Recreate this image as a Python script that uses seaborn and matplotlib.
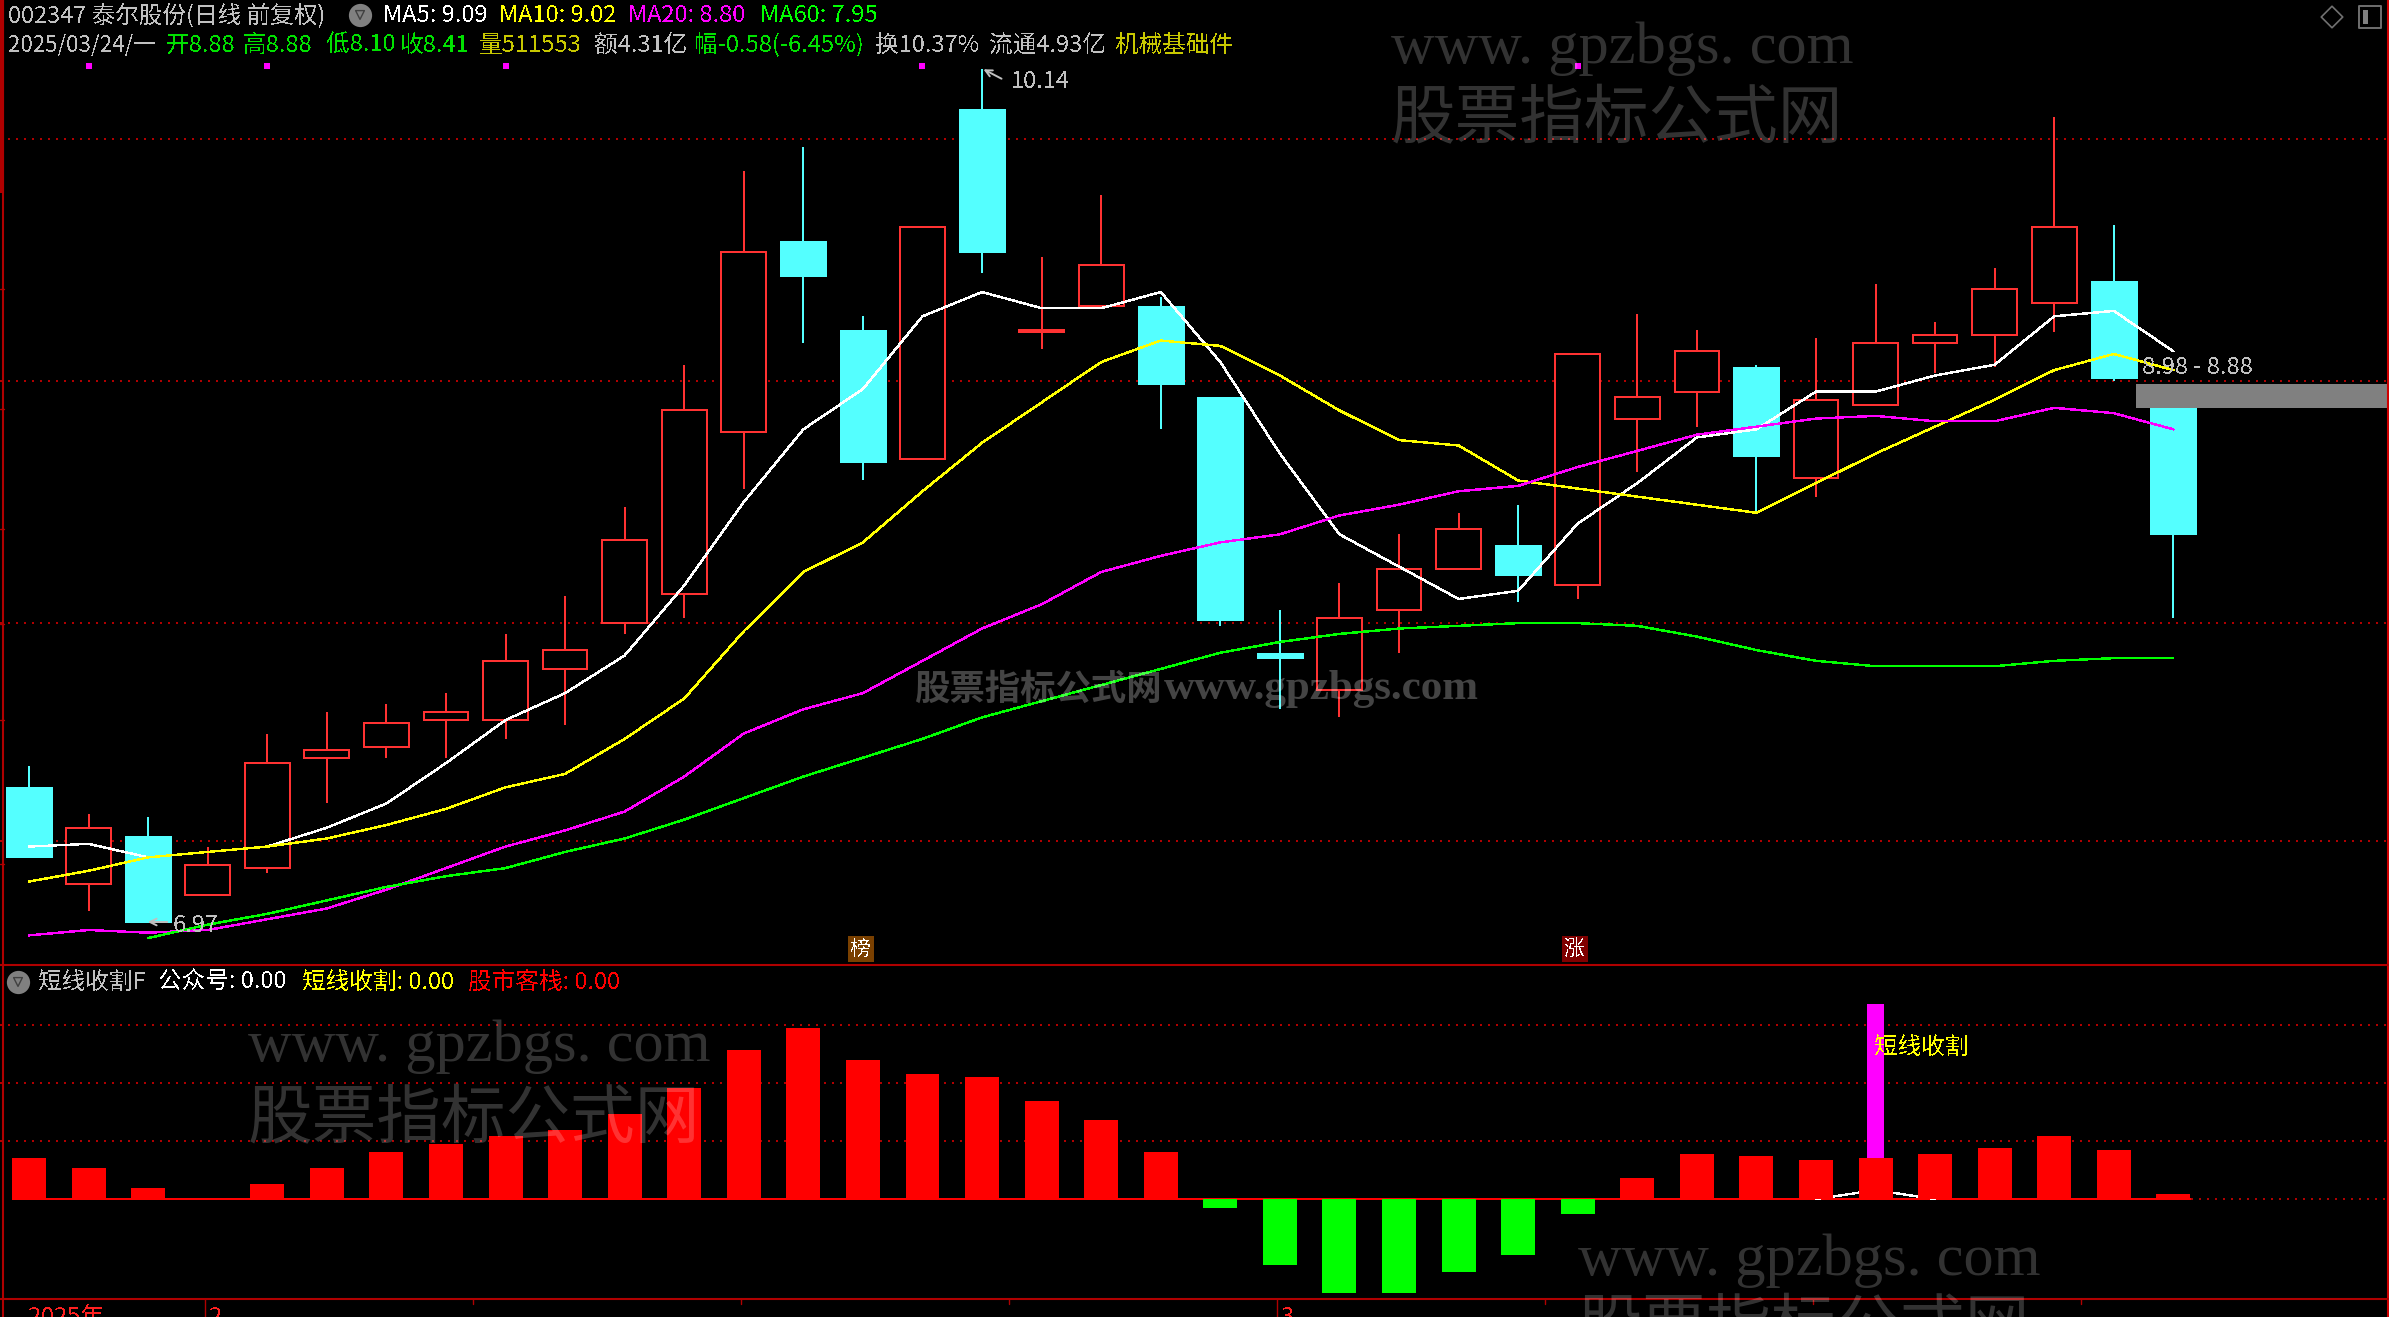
import matplotlib
matplotlib.use("Agg")
import matplotlib.pyplot as plt
import numpy as np
import seaborn as sns
from matplotlib.patches import Rectangle

sns.set_theme(style="dark")
plt.rcParams['font.family'] = ['Noto Sans CJK SC', 'DejaVu Sans']
plt.rcParams['text.antialiased'] = False

W, H = 2389, 1317
panel_split = 965
panel_bottom = 1299

# daily candles
opens = [7.47, 7.11, 7.29, 7.07, 7.17, 7.58, 7.62, 7.72, 7.72, 7.91, 8.08, 8.19, 8.79, 9.50, 9.17, 8.69, 9.99, 9.16, 9.26, 9.26,
         8.92, 7.97, 7.83, 8.13, 8.28, 8.37, 8.22, 8.84, 8.94, 9.03, 8.62, 8.89, 9.12, 9.15, 9.27, 9.35, 8.88]
highs = [7.55, 7.37, 7.36, 7.25, 7.67, 7.75, 7.78, 7.82, 8.04, 8.18, 8.51, 9.04, 9.76, 9.85, 9.22, 9.55, 10.14, 9.44, 9.67, 9.29,
         8.92, 8.13, 8.23, 8.41, 8.49, 8.52, 9.08, 9.23, 9.17, 9.04, 9.14, 9.34, 9.20, 9.40, 9.96, 9.56, 8.88]
lows = [7.21, 7.01, 6.97, 7.07, 7.15, 7.41, 7.58, 7.58, 7.65, 7.70, 8.04, 8.10, 8.58, 9.12, 8.61, 8.69, 9.38, 9.10, 9.26, 8.80,
        8.07, 7.76, 7.73, 7.97, 8.28, 8.16, 8.17, 8.64, 8.81, 8.49, 8.55, 8.89, 9.01, 9.03, 9.16, 8.98, 8.10]
closes = [7.21, 7.32, 6.97, 7.18, 7.56, 7.61, 7.71, 7.75, 7.94, 7.98, 8.39, 8.87, 9.46, 9.37, 8.68, 9.55, 9.46, 9.17, 9.41, 8.97,
          8.09, 7.95, 8.10, 8.28, 8.43, 8.26, 9.08, 8.92, 9.09, 8.70, 8.91, 9.12, 9.15, 9.32, 9.55, 8.99, 8.41]

ma5 = [7.25, 7.26, 7.21, 7.23, 7.25, 7.32, 7.41, 7.56, 7.72, 7.82, 7.96, 8.22, 8.53, 8.80, 8.95, 9.22, 9.31, 9.25, 9.25, 9.31,
       9.05, 8.71, 8.41, 8.29, 8.17, 8.20, 8.45, 8.60, 8.77, 8.80, 8.94, 8.94, 9.00, 9.04, 9.22, 9.24, 9.09]
ma10 = [7.12, 7.16, 7.21, 7.23, 7.25, 7.28, 7.33, 7.39, 7.47, 7.52, 7.65, 7.80, 8.05, 8.27, 8.38, 8.57, 8.75, 8.90, 9.05, 9.13,
        9.11, 9.00, 8.87, 8.76, 8.74, 8.61, 8.58, 8.55, 8.52, 8.49, 8.60, 8.71, 8.81, 8.91, 9.02, 9.08, 9.02]
ma20 = [6.92, 6.94, 6.93, 6.94, 6.98, 7.02, 7.09, 7.17, 7.25, 7.31, 7.38, 7.51, 7.67, 7.76, 7.82, 7.94, 8.06, 8.15, 8.27, 8.33,
        8.38, 8.41, 8.48, 8.52, 8.57, 8.59, 8.66, 8.72, 8.78, 8.81, 8.84, 8.85, 8.83, 8.83, 8.88, 8.86, 8.80]
ma60_idx = list(range(2, 37))
ma60 = [6.91, 6.96, 7.00, 7.05, 7.10, 7.14, 7.17, 7.23, 7.28, 7.35, 7.43, 7.51, 7.58, 7.65, 7.73, 7.79, 7.85, 7.91, 7.97, 8.01,
        8.04, 8.06, 8.07, 8.08, 8.08, 8.07, 8.03, 7.98, 7.94, 7.92, 7.92, 7.92, 7.94, 7.95, 7.95]

signal_idx = [1, 4, 8, 15, 26]
signal_price = 10.15
gap_high, gap_low = 8.97, 8.88
grid_prices = [9.88, 8.98, 8.08, 7.27]

# lower panel
bar_vals = [14.1, 10.7, 3.8, 0, 5.2, 10.7, 16.2, 19.0, 21.7, 23.8, 29.3, 38.3, 51.4, 59.0, 47.9, 43.1, 42.1, 33.8, 27.2, 16.2,
            -3.1, -22.8, -32.4, -32.4, -25.2, -19.3, -5.2, 7.2, 15.5, 14.8, 13.4, 14.1, 15.5, 17.6, 21.7, 16.9, 1.7]
signal_bar_idx = [31]
signal_bar_val = [67.2]
white_idx = [30, 31, 32]
white_vals = [0, 3.0, 0]
grid_lower = [20, 40, 60]

DARK_RED = "#b00000"
CANDLE_RED = "#ff3232"
CYAN = "#54ffff"
LW = 1.44
MA_LW = 1.0
x_idx = np.arange(len(closes))
xlim = (-0.487, 39.62)

fig = plt.figure(figsize=(W / 100, H / 100), dpi=100, facecolor="black")
ax = fig.add_axes([0, 1 - panel_split / H, 1, panel_split / H])
ax2 = fig.add_axes([0, 1 - panel_bottom / H, 1, (panel_bottom - panel_split) / H])
ov = fig.add_axes([0, 0, 1, 1], zorder=10)
ov.set_xlim(0, W)
ov.set_ylim(H, 0)
ov.patch.set_alpha(0)
ov.set_axis_off()

# --- candles ---
ax.set_facecolor("black")
ax.hlines(grid_prices, *xlim, color=DARK_RED, lw=LW, linestyles=(0, (1, 3)), zorder=1, antialiased=False)
for i in x_idx:
    up = closes[i] >= opens[i]
    col = CANDLE_RED if up else CYAN
    ax.vlines(i, lows[i], highs[i], color=col, lw=LW, zorder=2, antialiased=False)
    bottom = min(opens[i], closes[i])
    height = abs(closes[i] - opens[i])
    if up:
        ax.bar(i, height, bottom=bottom, width=0.75, facecolor="black", edgecolor=col, linewidth=LW, zorder=3, antialiased=False)
    else:
        ax.bar(i, height, bottom=bottom, width=0.77, facecolor=col, edgecolor=col, linewidth=0.5, zorder=3, antialiased=False)

sns.lineplot(x=x_idx, y=ma5, ax=ax, color="white", lw=MA_LW, errorbar=None, zorder=5, antialiased=False)
sns.lineplot(x=x_idx, y=ma10, ax=ax, color="#ffff00", lw=MA_LW, errorbar=None, zorder=5, antialiased=False)
sns.lineplot(x=x_idx, y=ma20, ax=ax, color="#ff00ff", lw=MA_LW, errorbar=None, zorder=5, antialiased=False)
sns.lineplot(x=ma60_idx, y=ma60, ax=ax, color="#00ff00", lw=MA_LW, errorbar=None, zorder=5, antialiased=False)
sns.scatterplot(x=signal_idx, y=[signal_price] * len(signal_idx), ax=ax, color="#ff00ff", marker="s", s=16, linewidth=0, zorder=5)
ax.barh((gap_high + gap_low) / 2, xlim[1] - 35.38, left=35.38, height=gap_high - gap_low, color="#808080", linewidth=0, zorder=4)
ax.set_xlim(*xlim)
ax.set_ylim(6.81, 10.395)
ax.set_axis_off()

# --- lower panel ---
ax2.set_facecolor("black")
ax2.hlines(grid_lower, *xlim, color=DARK_RED, lw=LW, linestyles=(0, (1, 3)), zorder=1, antialiased=False)
ax2.hlines(0, 36.3, xlim[1], color=DARK_RED, lw=LW, linestyles=(0, (1, 3)), zorder=1, antialiased=False)
sns.barplot(x=signal_bar_idx, y=signal_bar_val, ax=ax2, color="#ff00ff", saturation=1, native_scale=True, width=0.3, linewidth=0, zorder=2)
ax2.hlines(0, -0.29, 36.29, color="#ff0000", lw=LW, zorder=2, antialiased=False)
sns.lineplot(x=white_idx, y=white_vals, ax=ax2, color="white", lw=MA_LW, errorbar=None, zorder=2, antialiased=False)
bar_cols = ["up" if v >= 0 else "down" for v in bar_vals]
sns.barplot(x=x_idx, y=bar_vals, hue=bar_cols, palette={"up": "#ff0000", "down": "#00ff00"}, ax=ax2, saturation=1,
            native_scale=True, width=0.57, dodge=False, legend=False, linewidth=0, zorder=3)
ax2.set_xlim(*xlim)
ax2.set_ylim(-34.5, 80.7)
ax2.set_axis_off()

# --- frame ---
ov.plot([3, 3], [193, H], color=DARK_RED, lw=1.5, solid_capstyle="butt")
ov.plot([2, 2], [0, 193], color=DARK_RED, lw=3, solid_capstyle="butt")
ov.plot([2387.5, 2387.5], [0, H], color="#d00000", lw=1.5)
ov.plot([0, W], [panel_split, panel_split], color=DARK_RED, lw=1.5)
ov.plot([0, W], [panel_bottom, panel_bottom], color=DARK_RED, lw=1.5)
for ty in [289, 409, 529, 624, 720, 864]:
    ov.plot([0, 4], [ty, ty], color=DARK_RED, lw=1)
ov.plot([205, 205], [1299, 1317], color=DARK_RED, lw=1)
ov.plot([1277, 1277], [1299, 1317], color=DARK_RED, lw=1)
for tx in [473, 741, 1009, 1545, 1813, 2081]:
    ov.plot([tx, tx], [1299, 1304], color=DARK_RED, lw=1)
ov.text(28, 1318, "2025年", color="#ff2020", fontsize=17, va="center")
ov.text(209, 1318, "2", color="#ff2020", fontsize=17, va="center")
ov.text(1281, 1318, "3", color="#ff2020", fontsize=17, va="center")


def label(x, y, s, color, size=17):
    ov.text(x, y, s, color=color, fontsize=size, va="center", ha="left")


GRAY = "#c0c0c0"
GREEN = "#00e000"
OLIVE = "#c8c800"
label(8, 15, "002347 泰尔股份(日线 前复权)", GRAY)
label(383, 15, "MA5: 9.09", "white")
label(499, 15, "MA10: 9.02", "#ffff00")
label(628, 15, "MA20: 8.80", "#ff00ff")
label(760, 15, "MA60: 7.95", "#00ff00")
label(8, 45, "2025/03/24/一", GRAY, 16)
label(166, 45, "开8.88", GREEN)
label(243, 45, "高8.88", GREEN)
label(326, 45, "低8.10", GREEN)
label(400, 45, "收8.41", GREEN)
label(479, 45, "量511553", OLIVE)
label(594, 45, "额4.31亿", GRAY)
label(695, 45, "幅-0.58(-6.45%)", GREEN)
label(875, 45, "换10.37%", GRAY)
label(989, 45, "流通4.93亿", GRAY)
label(1115, 45, "机械基础件", OLIVE)

label(1011, 82, "10.14", GRAY)
ov.annotate("", xy=(981, 68), xytext=(1004, 80), arrowprops=dict(arrowstyle="->", color=GRAY, lw=1.4))
label(173, 925, "6.97", GRAY)
ov.annotate("", xy=(145, 922), xytext=(170, 922), arrowprops=dict(arrowstyle="->", color=GRAY, lw=1.4))
label(2142, 367, "8.98 - 8.88", GRAY)

label(38, 982, "短线收割F", GRAY)
label(158, 982, "公众号: 0.00", "white")
label(302, 982, "短线收割: 0.00", "#ffff00")
label(468, 982, "股市客栈: 0.00", "#ff0000")
label(1874, 1047, "短线收割", "#ffff00")

# menu circles and corner icons
ov.scatter([360, 18], [15, 982], s=280, color="#808080", linewidth=0)
ov.scatter([360, 18], [15, 982], s=40, marker="v", facecolor="none", edgecolor="#404040", linewidth=1)
ov.scatter([2332], [17], s=120, marker="D", facecolor="none", edgecolor="#707070", linewidth=1.2)
ov.scatter([2370], [17], s=250, marker="s", facecolor="none", edgecolor="#707070", linewidth=1.4)
ov.add_patch(Rectangle((2363, 10), 5, 14, color="#808080", linewidth=0))

# small day badges
ov.add_patch(Rectangle((848, 936), 26, 26, color="#7a4000", linewidth=0))
ov.add_patch(Rectangle((1562, 936), 26, 26, color="#800000", linewidth=0))
ov.text(861, 949, "榜", color="white", fontsize=15, ha="center", va="center")
ov.text(1575, 949, "涨", color="white", fontsize=15, ha="center", va="center")

# watermarks
SERIF = "Liberation Serif"
for wx, wy1, wy2 in [(1391, 49, 120), (248, 1047, 1120), (1578, 1261, 1329)]:
    ov.text(wx, wy1, "www. gpzbgs. com", color="white", alpha=0.2, fontsize=43.5, family=SERIF, va="center", antialiased=True, zorder=20)
    ov.text(wx, wy2, "股票指标公式网", color="white", alpha=0.2, fontsize=46.5, va="center", antialiased=True, zorder=20)
ov.text(914, 689, "股票指标公式网", color="white", alpha=0.27, fontsize=25.5, va="center", weight="bold", antialiased=True, zorder=20)
ov.text(1164, 689, "www.gpzbgs.com", color="white", alpha=0.27, fontsize=31, family=SERIF, va="center", weight="bold", antialiased=True, zorder=20)

fig.savefig("out.png", dpi=100, facecolor="black")
